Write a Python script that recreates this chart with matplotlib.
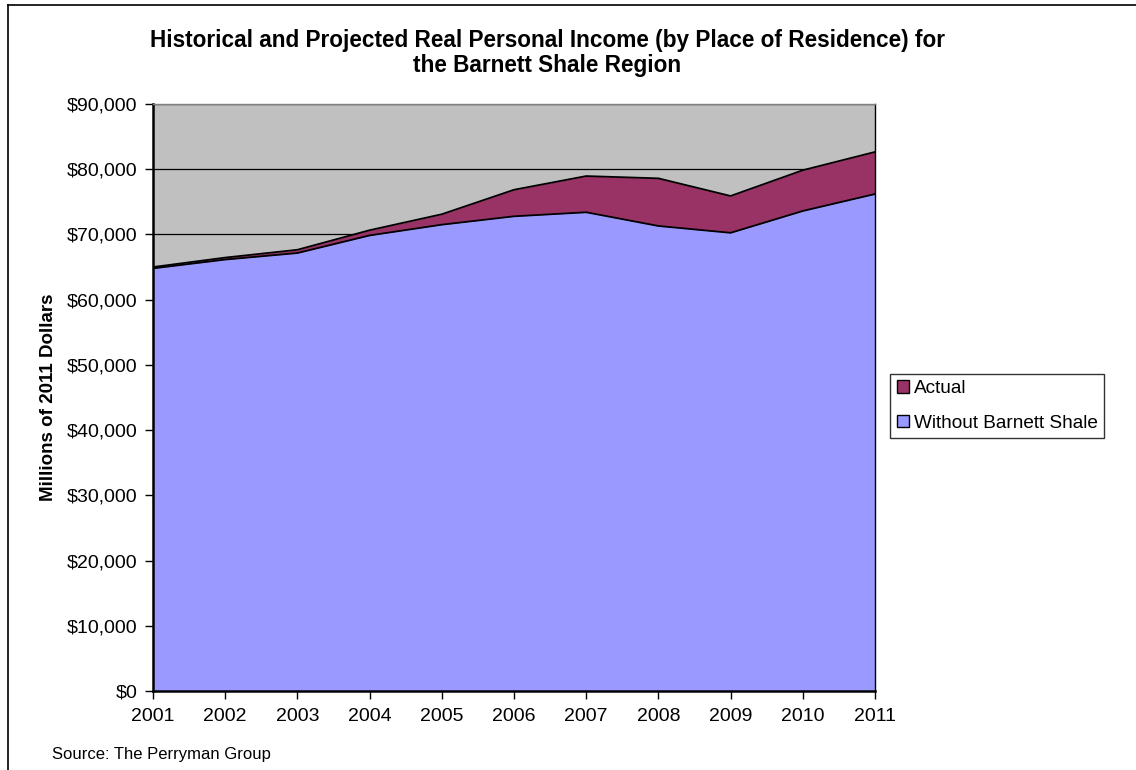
import matplotlib
matplotlib.use("Agg")
import matplotlib.pyplot as plt
from matplotlib.lines import Line2D
from matplotlib.patches import Patch
from matplotlib.ticker import FuncFormatter, MultipleLocator

plt.rcParams['font.family'] = ['Liberation Sans', 'DejaVu Sans']

years = [2001, 2002, 2003, 2004, 2005, 2006, 2007, 2008, 2009, 2010, 2011]
actual = [65000, 66450, 67650, 70650, 73100, 76850, 78950, 78600, 75900, 79850, 82650]
without_shale = [64800, 66150, 67150, 69850, 71500, 72780, 73400, 71300, 70250, 73600, 76200]

title = "Historical and Projected Real Personal Income (by Place of Residence) for\nthe Barnett Shale Region"
ylabel = "Millions of 2011 Dollars"
source = "Source: The Perryman Group"
series_names = ["Actual", "Without Barnett Shale"]
col_actual = "#993366"
col_without = "#9999FF"

W, H = 1136, 770
fig = plt.figure(figsize=(W / 100, H / 100), dpi=100)
ax = fig.add_axes([153 / W, 1 - 691 / H, (875 - 153) / W, (691 - 104) / H])
ax.set_facecolor("#C0C0C0")

ax.set_xlim(years[0], years[-1])
ax.set_ylim(0, 90000)
ax.yaxis.set_major_locator(MultipleLocator(10000))
ax.set_xticks(years)
ax.yaxis.set_major_formatter(FuncFormatter(lambda v, p: "${:,.0f}".format(v)))
ax.grid(axis="y", color="black", linewidth=0.9, zorder=0)
ax.set_axisbelow(True)

ax.fill_between(years, 0, actual, color=col_actual, zorder=2, linewidth=0)
ax.fill_between(years, 0, without_shale, color=col_without, zorder=3, linewidth=0)
ax.plot(years, actual, color="black", linewidth=1.3, zorder=4)
ax.plot(years, without_shale, color="black", linewidth=1.3, zorder=4)

ax.spines["top"].set_color("#808080")
ax.spines["top"].set_linewidth(1.0)
ax.spines["right"].set_color("black")
ax.spines["right"].set_linewidth(1.0)
ax.spines["left"].set_linewidth(1.8)
ax.spines["bottom"].set_linewidth(1.8)
for s in ["left", "bottom", "right", "top"]:
    ax.spines[s].set_zorder(5)

ax.tick_params(axis="both", direction="out", length=6, width=1, labelsize=14, colors="black")
ax.tick_params(axis="y", pad=5)
ax.tick_params(axis="x", pad=6)

ax.set_ylabel(ylabel, fontsize=13.5, fontweight="bold", labelpad=7)

fig.text(547 / W, 1 - 53 / H, title, ha="center", va="center", fontsize=16.3,
         fontweight="bold", linespacing=1.12)
fig.text(52 / W, 1 - 755 / H, source, ha="left", va="center", fontsize=12)

handles = [Patch(facecolor=col_actual, edgecolor="black", linewidth=1),
           Patch(facecolor=col_without, edgecolor="black", linewidth=1)]
leg = fig.legend(handles, series_names, loc="center left", bbox_to_anchor=(890 / W, 1 - 406 / H),
                 frameon=True, fancybox=False, edgecolor="black", fontsize=13.7,
                 handlelength=0.65, handleheight=0.65, handletextpad=0.25,
                 borderpad=0.35, labelspacing=0.9, borderaxespad=0)
leg.get_frame().set_linewidth(1)

# outer chart border (left and top)
fig.add_artist(Line2D([8 / W, 8 / W], [0, 1 - 5 / H], transform=fig.transFigure, color="black", linewidth=1.2))
fig.add_artist(Line2D([8 / W, 1], [1 - 5 / H, 1 - 5 / H], transform=fig.transFigure, color="black", linewidth=1.2))

fig.savefig("out.png", dpi=100, facecolor="white")
